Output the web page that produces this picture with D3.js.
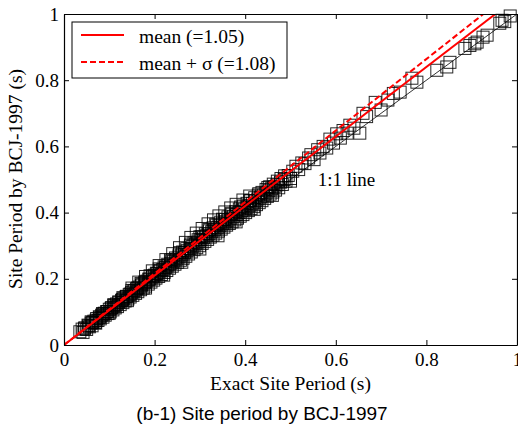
<!DOCTYPE html>
<html>
<head>
<meta charset="utf-8">
<script src="https://cdn.jsdelivr.net/npm/d3@7"></script>
<style>
  body { margin: 0; background: #fff; }
  svg { display: block; }
</style>
</head>
<body>
<div id="chart"></div>
<script>
// exact site period (s) vs site period by BCJ-1997 (s)
const denseSites = [
  [0.035,0.040],[0.040,0.048],[0.042,0.038],[0.046,0.052],[0.050,0.047],[0.053,0.060],[0.056,0.055],[0.060,0.066],
  [0.062,0.058],[0.066,0.072],[0.069,0.068],[0.072,0.080],[0.075,0.074],[0.078,0.085],[0.080,0.079],[0.083,0.090],
  [0.086,0.084],[0.089,0.096],[0.091,0.090],[0.094,0.101],[0.097,0.095],[0.100,0.108],[0.102,0.100],[0.105,0.113],
  [0.108,0.106],[0.110,0.119],[0.113,0.112],[0.116,0.124],[0.118,0.116],[0.121,0.130],[0.124,0.122],[0.127,0.135],
  [0.130,0.128],[0.132,0.141],[0.135,0.133],[0.138,0.147],[0.141,0.139],[0.144,0.152],[0.146,0.145],[0.149,0.158],
  [0.152,0.150],[0.155,0.163],[0.158,0.156],[0.160,0.170],[0.163,0.161],[0.166,0.175],[0.169,0.167],[0.172,0.182],
  [0.175,0.172],[0.178,0.188],[0.180,0.178],[0.183,0.193],[0.186,0.184],[0.189,0.199],[0.192,0.190],[0.195,0.205],
  [0.198,0.196],[0.200,0.211],[0.203,0.202],[0.206,0.216],[0.209,0.207],[0.212,0.223],[0.215,0.213],[0.218,0.228],
  [0.221,0.219],[0.224,0.234],[0.227,0.225],[0.230,0.241],[0.233,0.232],[0.236,0.247],[0.239,0.238],[0.242,0.253],
  [0.245,0.244],[0.248,0.259],[0.251,0.250],[0.254,0.266],[0.257,0.256],[0.260,0.272],[0.263,0.262],[0.266,0.279],
  [0.269,0.268],[0.272,0.285],[0.275,0.275],[0.278,0.292],[0.281,0.281],[0.284,0.298],[0.287,0.288],[0.290,0.305],
  [0.293,0.294],[0.296,0.311],[0.299,0.300],[0.302,0.318],[0.305,0.307],[0.308,0.324],[0.311,0.313],[0.314,0.330],
  [0.317,0.319],[0.320,0.336],[0.323,0.326],[0.326,0.342],[0.329,0.332],[0.332,0.348],[0.335,0.338],[0.338,0.354],
  [0.341,0.344],[0.344,0.360],[0.347,0.350],[0.350,0.366],[0.353,0.356],[0.356,0.372],[0.359,0.362],[0.362,0.377],
  [0.365,0.367],[0.368,0.383],[0.371,0.372],[0.374,0.389],[0.377,0.378],[0.380,0.394],[0.383,0.383],[0.386,0.400],
  [0.389,0.389],[0.392,0.405],[0.395,0.394],[0.398,0.411],[0.401,0.400],[0.404,0.416],[0.407,0.406],[0.410,0.422],
  [0.413,0.412],[0.416,0.428],[0.419,0.418],[0.422,0.435],[0.425,0.424],[0.428,0.441],[0.431,0.430],[0.434,0.447],
  [0.437,0.436],[0.440,0.453],[0.443,0.443],[0.446,0.459],[0.449,0.449],[0.452,0.466],[0.455,0.456],[0.458,0.472],
  [0.461,0.462],[0.464,0.478],[0.467,0.468],[0.470,0.484],[0.474,0.475],[0.478,0.492],[0.482,0.485],[0.486,0.500],
  [0.490,0.495],[0.495,0.512],[0.500,0.503]
];

const midSites = [
  [0.045,0.049],[0.054,0.058],[0.063,0.068],[0.071,0.075],[0.079,0.084],[0.087,0.093],[0.096,0.101],[0.104,0.111],
  [0.112,0.118],[0.121,0.129],[0.129,0.137],[0.137,0.146],[0.146,0.154],[0.154,0.164],[0.162,0.172],[0.171,0.181],
  [0.179,0.191],[0.187,0.199],[0.196,0.209],[0.204,0.217],[0.212,0.226],[0.221,0.236],[0.229,0.244],[0.237,0.254],
  [0.246,0.263],[0.254,0.272],[0.262,0.281],[0.271,0.291],[0.279,0.300],[0.287,0.309],[0.296,0.318],[0.304,0.327],
  [0.312,0.336],[0.321,0.345],[0.329,0.354],[0.337,0.362],[0.346,0.371],[0.354,0.379],[0.362,0.387],[0.371,0.395],
  [0.379,0.403],[0.387,0.411],[0.396,0.420],[0.404,0.428],[0.412,0.436],[0.421,0.445],[0.429,0.453],[0.437,0.461],
  [0.446,0.470],[0.454,0.478],[0.462,0.486],[0.471,0.495],[0.479,0.503],[0.487,0.511]
];

const highSites = [
  [0.060,0.070],[0.085,0.095],[0.110,0.122],[0.130,0.143],[0.150,0.165],[0.170,0.186],[0.190,0.209],[0.210,0.230],
  [0.235,0.257],[0.255,0.279],[0.280,0.305],[0.300,0.327],[0.320,0.349],[0.335,0.365],[0.350,0.380],[0.370,0.398],
  [0.390,0.417],[0.410,0.436],[0.430,0.457],[0.450,0.476]
];

const upperSites = [
  [0.150,0.172],[0.165,0.190],[0.180,0.207],[0.195,0.224],[0.210,0.240],[0.225,0.258],[0.240,0.276],[0.255,0.294],
  [0.268,0.310],[0.280,0.325],[0.292,0.338],[0.305,0.352],[0.318,0.366],[0.330,0.378],[0.342,0.390],[0.355,0.402],
  [0.368,0.414],[0.380,0.425],[0.395,0.438],[0.410,0.450]
];

const lowSites = [
  [0.070,0.066],[0.100,0.096],[0.140,0.134],[0.180,0.172],[0.220,0.211],[0.260,0.250],[0.300,0.290],[0.340,0.330],
  [0.380,0.372],[0.420,0.410],[0.460,0.452],[0.500,0.495]
];

const longSites = [
  [0.505,0.525],[0.512,0.540],[0.518,0.530],[0.525,0.550],[0.532,0.548],[0.540,0.565],[0.545,0.575],[0.552,0.560],
  [0.560,0.590],[0.565,0.580],[0.572,0.600],[0.580,0.595],[0.587,0.622],[0.595,0.610],[0.602,0.638],[0.610,0.625],
  [0.616,0.648],[0.625,0.640],[0.631,0.664],[0.640,0.655],[0.653,0.640],[0.660,0.700],[0.668,0.690],[0.687,0.733],
  [0.700,0.710],[0.715,0.740],[0.727,0.760],[0.742,0.764],[0.768,0.806],[0.779,0.794],[0.823,0.830],[0.845,0.840],
  [0.852,0.854],[0.885,0.896],[0.896,0.905],[0.907,0.910],[0.912,0.915],[0.925,0.930],[0.934,0.936],[0.962,0.972],
  [0.967,0.981],[0.973,0.977],[0.985,0.994]
];

const fitNames = ["mean (=1.05)", "mean + \u03c3 (=1.08)"];
const fitRatios = [1.05, 1.08];
const axisTicks = [0, 0.2, 0.4, 0.6, 0.8, 1];

const serif = "'Liberation Serif', 'Times New Roman', serif";
const W = 518, H = 429;
const margin = { top: 14, right: 1, bottom: 84, left: 64 };
const width = W - margin.left - margin.right;
const height = H - margin.top - margin.bottom;

const svg = d3.select("#chart").append("svg")
    .attr("width", W)
    .attr("height", H);

const g = svg.append("g")
    .attr("transform", `translate(${margin.left},${margin.top})`);

const x = d3.scaleLinear().domain([0, 1]).range([0, width]);
const y = d3.scaleLinear().domain([0, 1]).range([height, 0]);

svg.append("clipPath").attr("id", "plot-clip")
    .append("rect").attr("width", width).attr("height", height);

// markers
const allSites = denseSites.concat(midSites, highSites, upperSites, lowSites, longSites);
const side = 12;
g.append("g")
    .selectAll("rect")
    .data(allSites)
    .join("rect")
    .attr("x", d => x(d[0]) - side / 2)
    .attr("y", d => y(d[1]) - side / 2)
    .attr("width", side)
    .attr("height", side)
    .attr("fill", "none")
    .attr("stroke", "#000")
    .attr("stroke-opacity", 0.85)
    .attr("stroke-width", 1);

const lines = g.append("g").attr("clip-path", "url(#plot-clip)");

// 1:1 line
lines.append("line")
    .attr("x1", x(0)).attr("y1", y(0))
    .attr("x2", x(1)).attr("y2", y(1))
    .attr("stroke", "#000")
    .attr("stroke-width", 0.8);

// fitted ratio lines
fitRatios.forEach((r, i) => {
    lines.append("line")
        .attr("x1", x(0)).attr("y1", y(0))
        .attr("x2", x(1 / r)).attr("y2", y(1))
        .attr("stroke", "#ff0000")
        .attr("stroke-width", 2)
        .attr("stroke-dasharray", i === 1 ? "6,3" : null);
});

g.append("text")
    .attr("x", x(0.56))
    .attr("y", y(0.48))
    .attr("font-family", serif)
    .attr("font-size", 19)
    .text("1:1 line");

// axes, ticks inward on all four sides
const fmt = d => d === 0 || d === 1 ? String(d) : d3.format(".1f")(d);
const axes = [
    { ax: d3.axisBottom(x), t: `translate(0,${height})`, labels: true, pad: 8 },
    { ax: d3.axisLeft(y), t: null, labels: true, pad: 5 },
    { ax: d3.axisTop(x), t: null, labels: false, pad: 3 },
    { ax: d3.axisRight(y), t: `translate(${width},0)`, labels: false, pad: 3 }
];
axes.forEach(a => {
    const ag = g.append("g")
        .attr("transform", a.t)
        .call(a.ax.tickValues(axisTicks).tickSizeInner(-5).tickSizeOuter(0)
            .tickPadding(a.pad).tickFormat(a.labels ? fmt : ""));
    ag.attr("font-family", serif).attr("font-size", 19);
    ag.select(".domain").attr("stroke", "#000").attr("stroke-width", 1.2);
    ag.selectAll(".tick line").attr("stroke", "#000");
    ag.selectAll("text").attr("fill", "#000");
});

// axis labels
svg.append("text")
    .attr("x", margin.left + width / 2)
    .attr("y", 390)
    .attr("text-anchor", "middle")
    .attr("font-family", serif)
    .attr("font-size", 19.5)
    .text("Exact Site Period (s)");

svg.append("text")
    .attr("transform", "translate(22,179) rotate(-90)")
    .attr("text-anchor", "middle")
    .attr("font-family", serif)
    .attr("font-size", 19.5)
    .text("Site Period by BCJ-1997 (s)");

svg.append("text")
    .attr("x", 262)
    .attr("y", 420)
    .attr("text-anchor", "middle")
    .attr("font-family", "'Liberation Sans', Arial, sans-serif")
    .attr("font-size", 19)
    .text("(b-1) Site period by BCJ-1997");

// legend
const legend = g.append("g").attr("transform", "translate(8,8)");
legend.append("rect")
    .attr("width", 215)
    .attr("height", 56)
    .attr("fill", "#fff")
    .attr("stroke", "#000")
    .attr("stroke-width", 1);
fitNames.forEach((name, i) => {
    const ly = 13 + i * 27;
    legend.append("line")
        .attr("x1", 9).attr("x2", 52)
        .attr("y1", ly).attr("y2", ly)
        .attr("stroke", "#ff0000")
        .attr("stroke-width", 2)
        .attr("stroke-dasharray", i === 1 ? "6,3" : null);
    legend.append("text")
        .attr("x", 67)
        .attr("y", ly + 8)
        .attr("font-family", serif)
        .attr("font-size", 19.5)
        .text(name);
});
</script>
</body>
</html>
